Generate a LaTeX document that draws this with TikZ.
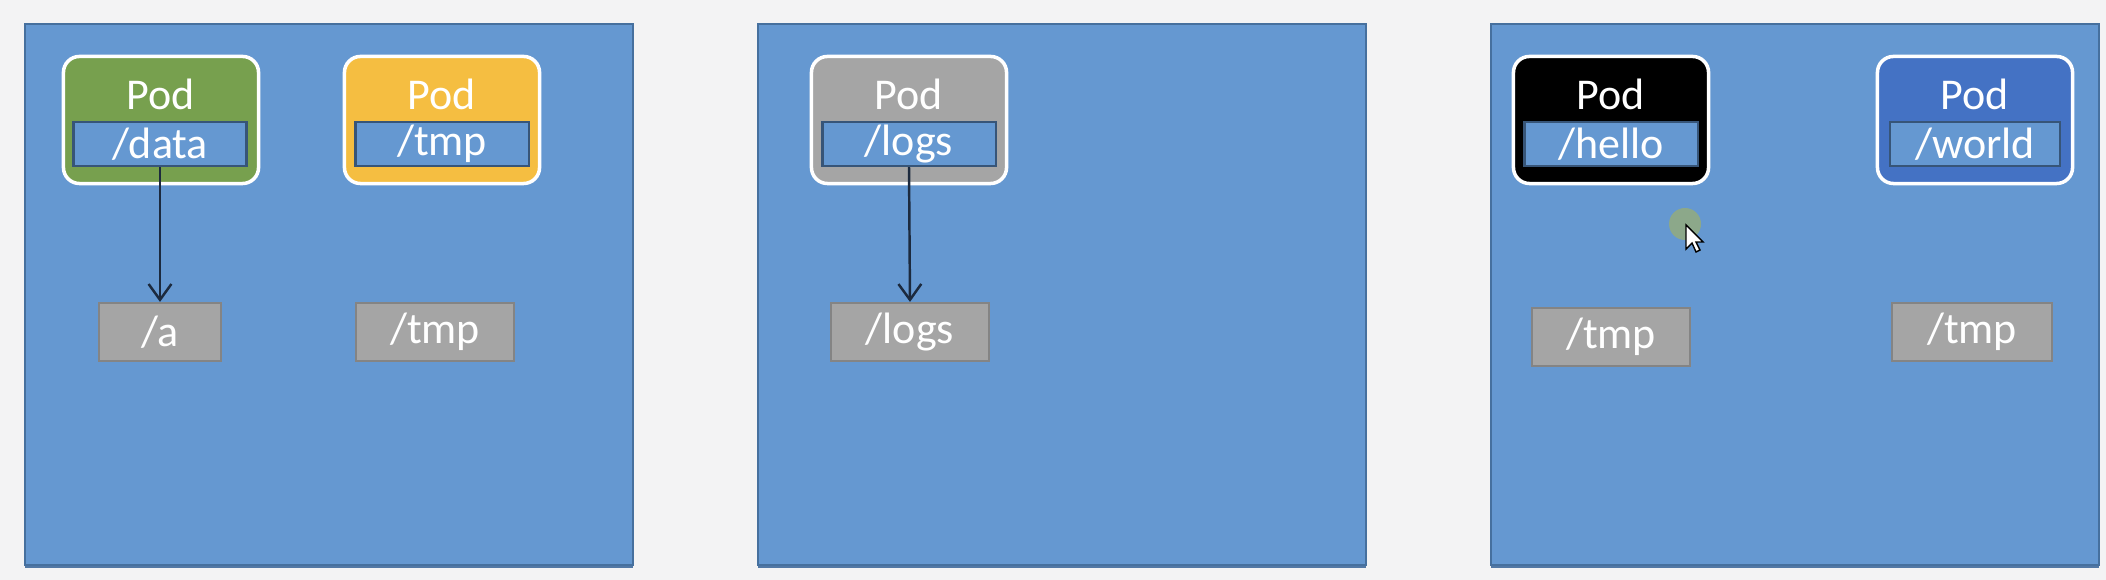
\documentclass[tikz,border=0pt]{standalone}
\usepackage{fontspec}
\setmainfont{Carlito}
\usetikzlibrary{arrows.meta}

\definecolor{slidebg}{RGB}{243,243,244}
\definecolor{nodeblue}{RGB}{101,152,209}
\definecolor{nodeedge}{RGB}{70,112,158}
\definecolor{nodeshade}{RGB}{82,120,165}
\definecolor{podgreen}{RGB}{119,160,78}
\definecolor{podyellow}{RGB}{245,190,65}
\definecolor{podgray}{RGB}{165,165,165}
\definecolor{podblue}{RGB}{68,114,196}
\definecolor{mountedge}{RGB}{55,85,120}
\definecolor{linkdark}{RGB}{28,42,62}
\definecolor{clickgreen}{RGB}{140,168,138}

\begin{document}
\begin{tikzpicture}[x=0.01cm, y=-0.01cm, font=\fontsize{12.5}{15}\selectfont,
		pod/.style={draw=white, line width=1pt, rounded corners=0.16cm, minimum width=1.95cm, minimum height=1.27cm, inner sep=0pt},
		podlabel/.style={inner sep=0pt, text=white},
		mount/.style={draw=mountedge, fill=nodeblue, line width=0.6pt, minimum width=1.73cm, minimum height=0.44cm, inner sep=0pt, text=white},
		volume/.style={draw=podgray!80!black, fill=podgray, line width=0.6pt, minimum height=0.58cm, inner sep=0pt, text=white},
		link/.style={draw=linkdark, line width=0.7pt, -{Straight Barb[length=4.5pt, width=6.5pt]}}]

		\useasboundingbox (0, 0) rectangle (2106, 580);
		\fill [slidebg] (0, 0) rectangle (2106, 580);

		% three nodes
		\fill [nodeshade] (25, 28) rectangle (633, 568);
		\filldraw [fill=nodeblue, draw=nodeedge, line width=0.5pt] (25, 24) rectangle (633, 565);

		\fill [nodeshade] (758, 28) rectangle (1366, 568);
		\filldraw [fill=nodeblue, draw=nodeedge, line width=0.5pt] (758, 24) rectangle (1366, 565);

		\fill [nodeshade] (1491, 28) rectangle (2099, 568);
		\filldraw [fill=nodeblue, draw=nodeedge, line width=0.5pt] (1491, 24) rectangle (2099, 565);

		% first node
		\node [pod, fill=podgreen] (podA) at (161, 120) {};
		\node [podlabel] (podAlbl) at (161, 94) {Pod};
		\node [mount] (data) at (160, 144) {/data};

		\node [pod, fill=podyellow] (podB) at (442, 120) {};
		\node [podlabel] (podBlbl) at (442, 94) {Pod};
		\node [mount] (tmpB) at (442, 144) {/tmp};

		\node [volume, minimum width=1.215cm] (hostA) at (160, 332) {/a};
		\node [volume, minimum width=1.58cm] (hostB) at (435, 332) {/tmp};

		\draw [link] (data.south) -- (hostA.north);

		% second node
		\node [pod, fill=podgray] (podC) at (909, 120) {};
		\node [podlabel] (podClbl) at (909, 94) {Pod};
		\node [mount] (logs) at (909, 144) {/logs};

		\node [volume, minimum width=1.585cm] (hostC) at (910, 332) {/logs};

		\draw [link] (logs.south) -- (hostC.north);

		% third node
		\node [pod, fill=black] (podD) at (1611, 120) {};
		\node [podlabel] (podDlbl) at (1611, 94) {Pod};
		\node [mount] (hello) at (1611, 144) {/hello};

		\node [pod, fill=podblue] (podE) at (1975, 120) {};
		\node [podlabel] (podElbl) at (1975, 94) {Pod};
		\node [mount, minimum width=1.70cm] (world) at (1975, 144) {/world};

		\node [volume, minimum width=1.585cm] (hostD) at (1611, 337) {/tmp};
		\node [volume, minimum width=1.595cm] (hostE) at (1972, 332) {/tmp};

		% pointer
		\fill [clickgreen] (1685, 224) circle (0.16cm);
		\filldraw [fill=white, draw=black, line width=0.4pt] (1686, 225) -- (1686, 249) -- (1692, 243) -- (1696, 252) -- (1700, 250) -- (1696, 242) -- (1703, 242) -- cycle;
	\end{tikzpicture}
\end{document}
